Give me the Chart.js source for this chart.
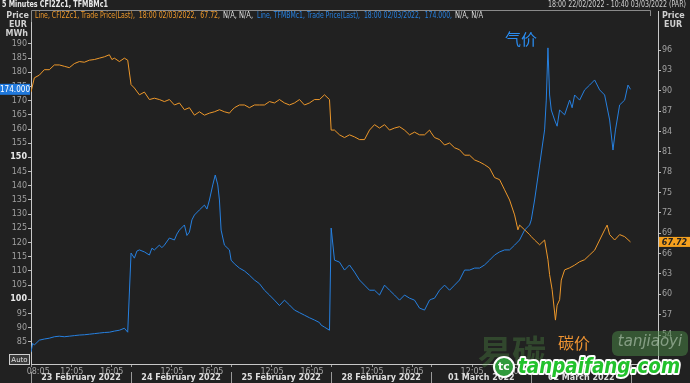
<!DOCTYPE html>
<html><head><meta charset="utf-8">
<script src="https://cdn.jsdelivr.net/npm/chart.js@4"></script>
<style>html,body{margin:0;padding:0;background:#212121;overflow:hidden}#w{width:690px;height:383px;position:relative}canvas{display:block}</style>
</head><body><div id="w"><canvas id="c" width="690" height="383" style="width:690px;height:383px"></canvas></div>
<script>
// ---- data ----
const dayDates  = ["23/02","24/02","25/02","28/02","01/03","02/03","03/03"];
const dayLabels = ["23 February 2022","24 February 2022","25 February 2022","28 February 2022","01 March 2022","02 March 2022"];
const leftTicks  = [85,90,95,100,105,110,115,120,125,130,135,140,145,150,155,160,165,170,175,180,185,190];
const rightTicks = [54,57,60,63,66,69,72,75,78,81,84,87,90,93,96];
const boldLeftTicks = [100,150];

// TFMBMc1 (gas, EUR/MWh, left axis)
const gasTimes = [
"23/02 08:00","23/02 08:10","23/02 08:20","23/02 08:50","23/02 09:20","23/02 09:50","23/02 10:20","23/02 10:50","23/02 11:20","23/02 11:50","23/02 12:20","23/02 12:50","23/02 13:20","23/02 13:50","23/02 14:20","23/02 14:50","23/02 15:20","23/02 15:50","23/02 16:20","23/02 16:50","23/02 17:20","23/02 17:40",
"24/02 08:00","24/02 08:20","24/02 08:35","24/02 08:50","24/02 09:20","24/02 09:50","24/02 10:05","24/02 10:20","24/02 10:50","24/02 11:05","24/02 11:20","24/02 11:50","24/02 12:20","24/02 12:35","24/02 12:50","24/02 13:20","24/02 13:35","24/02 13:50","24/02 14:05","24/02 14:20","24/02 14:50","24/02 15:20","24/02 15:35","24/02 15:50","24/02 16:10","24/02 16:25","24/02 16:40","24/02 16:50","24/02 17:00","24/02 17:20","24/02 17:50",
"25/02 08:00","25/02 08:20","25/02 08:50","25/02 09:20","25/02 09:50","25/02 10:20","25/02 10:50","25/02 11:20","25/02 11:50","25/02 12:20","25/02 12:50","25/02 13:20","25/02 13:50","25/02 14:20","25/02 14:50","25/02 15:20","25/02 15:50","25/02 16:20","25/02 16:50","25/02 17:00","25/02 17:20","25/02 17:50",
"28/02 08:00","28/02 08:20","28/02 08:50","28/02 09:20","28/02 09:50","28/02 10:20","28/02 10:50","28/02 11:20","28/02 11:50","28/02 12:20","28/02 12:50","28/02 13:20","28/02 13:50","28/02 14:20","28/02 14:50","28/02 15:20","28/02 15:50","28/02 16:20","28/02 16:50","28/02 17:20","28/02 17:50",
"01/03 08:00","01/03 08:20","01/03 08:50","01/03 09:20","01/03 09:50","01/03 10:20","01/03 10:50","01/03 11:20","01/03 11:50","01/03 12:20","01/03 12:50","01/03 13:20","01/03 13:50","01/03 14:20","01/03 14:50","01/03 15:20","01/03 15:50","01/03 16:20","01/03 16:50","01/03 17:20","01/03 17:50",
"02/03 08:00","02/03 08:20","02/03 08:50","02/03 09:20","02/03 09:30","02/03 09:40","02/03 09:50","02/03 10:00","02/03 10:20","02/03 10:35","02/03 10:50","02/03 11:20","02/03 11:50","02/03 12:05","02/03 12:20","02/03 12:50","02/03 13:20","02/03 13:50","02/03 14:20","02/03 14:50","02/03 15:20","02/03 15:50","02/03 16:10","02/03 16:25","02/03 16:50","02/03 17:20","02/03 17:40","02/03 17:55"
];
const gasValues = [
81.4,84.5,83.9,85.6,86.0,86.3,86.8,87.0,86.8,87.0,87.2,87.4,87.5,87.7,87.9,88.1,88.3,88.4,88.8,89.1,89.8,88.4,
116.3,114.5,117.0,117.4,116.7,115.6,118.0,117.4,119.1,118.2,119.1,121.6,120.9,123.0,124.4,126.2,122.5,123.7,128.0,129.7,131.5,133.2,131.8,135.0,140.3,143.8,140.3,135.0,124.4,119.1,117.4,
113.8,112.5,111.0,110.0,108.5,106.8,105.5,103.2,101.5,99.7,97.8,99.7,98.0,96.2,95.3,94.4,93.5,92.7,91.8,90.9,90.2,89.1,
125.1,113.8,113.1,110.3,112.1,109.6,106.8,105.0,103.2,103.2,101.5,105.0,103.2,101.5,99.7,101.5,100.4,99.7,96.9,96.2,99.7,
100.0,100.4,103.2,105.0,103.2,105.0,106.8,110.3,110.3,111.0,111.0,112.1,113.8,115.6,116.7,117.4,117.4,119.1,120.9,124.4,126.2,
128.0,135.0,147.3,159.7,170.2,188.6,172.0,166.7,163.2,161.0,166.7,165.0,170.2,167.5,172.0,170.2,173.8,175.5,177.3,173.8,172.0,163.2,152.6,159.7,168.5,170.2,175.5,174.0
];

// CFI2Zc1 (carbon, EUR, right axis)
const carbonTimes = [
"23/02 08:00","23/02 08:20","23/02 08:50","23/02 09:20","23/02 09:50","23/02 10:20","23/02 10:50","23/02 11:20","23/02 11:50","23/02 12:20","23/02 12:50","23/02 13:20","23/02 13:50","23/02 14:20","23/02 14:50","23/02 15:20","23/02 15:50","23/02 16:05","23/02 16:20","23/02 16:50","23/02 17:20","23/02 17:40",
"24/02 08:00","24/02 08:20","24/02 08:50","24/02 09:20","24/02 09:50","24/02 10:20","24/02 10:50","24/02 11:20","24/02 11:50","24/02 12:20","24/02 12:50","24/02 13:20","24/02 13:50","24/02 14:20","24/02 14:50","24/02 15:20","24/02 15:50","24/02 16:20","24/02 16:50","24/02 17:20","24/02 17:50",
"25/02 08:00","25/02 08:20","25/02 08:50","25/02 09:20","25/02 09:50","25/02 10:20","25/02 10:50","25/02 11:20","25/02 11:50","25/02 12:20","25/02 12:50","25/02 13:20","25/02 13:50","25/02 14:20","25/02 14:50","25/02 15:20","25/02 15:50","25/02 16:20","25/02 16:50","25/02 17:20","25/02 17:50",
"28/02 08:00","28/02 08:20","28/02 08:50","28/02 09:20","28/02 09:50","28/02 10:20","28/02 10:50","28/02 11:20","28/02 11:50","28/02 12:20","28/02 12:50","28/02 13:20","28/02 13:50","28/02 14:20","28/02 14:50","28/02 15:20","28/02 15:50","28/02 16:20","28/02 16:50","28/02 17:20","28/02 17:50",
"01/03 08:00","01/03 08:20","01/03 08:50","01/03 09:20","01/03 09:50","01/03 10:20","01/03 10:50","01/03 11:20","01/03 11:50","01/03 12:20","01/03 12:50","01/03 13:20","01/03 13:50","01/03 14:20","01/03 14:50","01/03 15:20","01/03 15:50","01/03 16:20","01/03 16:40","01/03 16:50","01/03 17:20","01/03 17:50",
"02/03 08:00","02/03 08:20","02/03 08:50","02/03 09:20","02/03 09:40","02/03 09:50","02/03 10:05","02/03 10:25","02/03 10:35","02/03 10:50","02/03 11:00","02/03 11:20","02/03 11:50","02/03 12:20","02/03 12:50","02/03 13:20","02/03 13:50","02/03 14:20","02/03 14:50","02/03 15:20","02/03 15:35","02/03 15:50","02/03 16:20","02/03 16:50","02/03 17:20","02/03 17:55"
];
const carbonValues = [
89.8,91.9,92.3,93.1,93.1,93.8,93.8,93.6,93.4,94.0,94.3,94.2,94.5,94.6,94.8,95.0,95.3,94.6,94.8,94.3,94.8,94.5,
90.9,90.4,89.4,89.8,88.7,88.9,88.7,88.4,88.7,87.9,88.2,87.2,87.5,86.4,86.9,86.4,86.7,86.9,87.2,86.9,86.7,
87.0,87.5,87.9,87.9,87.5,87.9,87.9,87.9,88.4,88.2,88.7,88.2,87.9,88.2,88.7,87.9,88.2,88.7,88.7,89.4,88.7,
84.2,84.2,83.5,83.1,83.5,83.2,82.8,82.8,84.2,85.0,84.5,85.0,84.2,84.5,84.7,84.2,83.5,83.9,83.5,83.5,84.2,
83.8,83.1,82.8,82.0,82.3,81.6,81.3,80.5,80.5,79.8,79.5,79.1,78.6,77.2,76.9,75.4,73.9,71.7,69.5,70.2,69.5,68.8,
68.5,68.0,67.3,68.0,65.1,62.9,60.7,56.2,58.4,59.2,62.1,63.6,63.9,64.3,64.8,65.1,65.8,66.5,68.0,69.5,70.2,68.8,68.0,68.8,68.5,67.72
];

// ---- helpers ----
const SESSION_START = 8, SESSION_LEN = 10; // 08:00-18:00 Paris
function sessionHour(s){
  const [d,t] = s.split(" ");
  const [h,m] = t.split(":").map(Number);
  return dayDates.indexOf(d)*SESSION_LEN + (h + m/60 - SESSION_START);
}
const xMax = sessionHour("03/03 10:40");
const xTicks = [{v:sessionHour("23/02 08:05"),l:"     08:05"}];
for (let d=0; d<dayLabels.length; d++){
  if (d>0) xTicks.push({v:d*SESSION_LEN,l:""});
  xTicks.push({v:sessionHour(dayDates[d]+" 12:05"),l:"12:05"});
  xTicks.push({v:sessionHour(dayDates[d]+" 16:05"),l:"16:05"});
}
xTicks.push({v:6*SESSION_LEN,l:""});

const ORANGE = "#ee982a", BLUE = "#2680e0";
const FONT = "'DejaVu Sans', 'Liberation Sans', sans-serif";

const decor = {
  id:"decor",
  beforeDraw(chart){
    const c = chart.ctx; c.save();
    c.fillStyle = "#212121"; c.fillRect(0,0,chart.width,chart.height);
    c.restore();
  },
  afterDraw(chart){
    const c = chart.ctx, a = chart.chartArea, sx = chart.scales.x, yL = chart.scales.yL, yR = chart.scales.yR;
    c.save();
    c.textBaseline = "middle";
    // header
    c.font = "bold 8px " + FONT; c.fillStyle = "#e8e8e8"; c.textAlign = "left";
    c.fillText("5 Minutes CFI2Zc1, TFMBMc1", 2, 5, 106);
    c.font = "8px " + FONT; c.fillStyle = "#cfcfcf"; c.textAlign = "right";
    c.fillText("18:00 22/02/2022 - 10:40 03/03/2022 (PAR)", 686, 5, 138);
    // legend frame
    c.strokeStyle = "#8a8a8a"; c.lineWidth = 1;
    c.beginPath(); c.moveTo(a.left+0.5, 22); c.lineTo(a.left+0.5, 10.5); c.lineTo(650.5, 10.5); c.lineTo(650.5, 16); c.stroke();
    // legend text
    c.textAlign = "left"; c.font = "8px " + FONT;
    c.fillStyle = ORANGE; c.fillText("Line, CFI2Zc1, Trade Price(Last),  18:00 02/03/2022,  67.72,", 35, 16, 185);
    c.fillStyle = "#dddddd"; c.fillText("N/A, N/A,", 223, 16, 30);
    c.fillStyle = BLUE; c.fillText("Line, TFMBMc1, Trade Price(Last),  18:00 02/03/2022,  174.000,", 257, 16, 195);
    c.fillStyle = "#dddddd"; c.fillText("N/A, N/A", 455, 16, 28);
    // axis unit labels
    c.font = "bold 8px " + FONT; c.fillStyle = "#d0d0d0"; c.textAlign = "right";
    c.fillText("Price", 29, 16); c.fillText("EUR", 27, 25); c.fillText("MWh", 28, 34);
    c.textAlign = "left";
    c.fillText("Price", 662, 16); c.fillText("EUR", 664, 25);
    // current value boxes
    const lastGas = gasValues[gasValues.length-1], lastCarbon = carbonValues[carbonValues.length-1];
    let py = yL.getPixelForValue(lastGas);
    c.fillStyle = "#1f78dc"; c.fillRect(0, py-5.5, a.left-1, 11);
    c.font = "8px " + FONT; c.fillStyle = "#ffffff"; c.textAlign = "center";
    c.fillText(lastGas.toFixed(3), (a.left-1)/2, py+0.5, 30);
    py = yR.getPixelForValue(lastCarbon);
    c.fillStyle = "#f5a01e"; c.fillRect(a.right+1, py-5, chart.width-a.right-1, 10);
    c.font = "italic bold 8px " + FONT; c.fillStyle = "#222"; c.textAlign = "center";
    c.fillText(lastCarbon.toFixed(2), a.right+1+(chart.width-a.right-1)/2, py+0.5);
    // Auto box
    c.fillStyle = "#3a3a3a"; c.fillRect(9.5, 354.5, 20, 10);
    c.strokeStyle = "#cfcfcf"; c.strokeRect(9.5, 354.5, 20, 10);
    c.font = "7px " + FONT; c.fillStyle = "#e0e0e0"; c.fillText("Auto", 19.5, 360);
    // date row
    c.font = "bold 8px " + FONT; c.fillStyle = "#dedede"; c.textAlign = "center";
    for (let d=0; d<dayLabels.length; d++){
      c.fillText(dayLabels[d], sx.getPixelForValue(d*SESSION_LEN + SESSION_LEN/2), 377.5);
    }
    c.strokeStyle = "#9a9a9a";
    for (let d=0; d<=dayLabels.length; d++){
      const xx = Math.round(sx.getPixelForValue(d*SESSION_LEN)) + 0.5;
      c.beginPath(); c.moveTo(xx, 372); c.lineTo(xx, 383); c.stroke();
    }
    // annotations
    c.font = "16px 'Noto Sans CJK SC', sans-serif";
    c.fillStyle = "#2a8cf0"; c.textAlign = "left"; c.fillText("气价", 505, 39);
    // watermark (faint logo)
    c.globalAlpha = 0.28;
    c.font = "bold 34px 'Noto Sans CJK SC', sans-serif"; c.fillStyle = "#5fae4f"; c.textAlign = "left";
    c.fillText("易碳", 478, 352);
    c.globalAlpha = 0.5;
    c.fillStyle = "#4c8c48";
    roundRect(c, 612, 331, 76, 25, 6); c.fill();
    c.font = "italic 15px " + FONT; c.fillStyle = "#d3e6d3"; c.textAlign = "center";
    c.fillText("tanjiaoyi", 650, 342);
    c.globalAlpha = 1;
    c.beginPath(); c.arc(504, 367, 10, 0, Math.PI*2); c.fillStyle = "#2f9a3c"; c.fill();
    c.lineWidth = 2; c.strokeStyle = "#ffffff"; c.stroke();
    c.font = "bold 11px " + FONT; c.fillStyle = "#ffffff"; c.textAlign = "center"; c.fillText("tc", 504, 367);
    c.font = "bold italic 21px " + FONT; c.textAlign = "left"; c.lineJoin = "round";
    c.lineWidth = 4; c.strokeStyle = "#ffffff"; c.strokeText("tanpaifang.com", 518, 368, 162);
    c.fillStyle = "#22c22c"; c.fillText("tanpaifang.com", 518, 368, 162);
    c.font = "16px 'Noto Sans CJK SC', sans-serif";
    c.fillStyle = "#ee9332"; c.textAlign = "left"; c.fillText("碳价", 558, 343);
    c.restore();
  }
};
function roundRect(c,x,y,w,h,r){c.beginPath();c.moveTo(x+r,y);c.arcTo(x+w,y,x+w,y+h,r);c.arcTo(x+w,y+h,x,y+h,r);c.arcTo(x,y+h,x,y,r);c.arcTo(x,y,x+w,y,r);c.closePath();}

const tickFont = {family: FONT, size: 8};
new Chart(document.getElementById("c"), {
  type: "line",
  data: {
    datasets: [
      {label:"CFI2Zc1", yAxisID:"yR", data: carbonTimes.map((t,i)=>({x:sessionHour(t), y:carbonValues[i]})), borderColor: ORANGE, borderWidth: 1, pointRadius: 0, tension: 0},
      {label:"TFMBMc1", yAxisID:"yL", data: gasTimes.map((t,i)=>({x:sessionHour(t), y:gasValues[i]})), borderColor: BLUE, borderWidth: 1, pointRadius: 0, tension: 0}
    ]
  },
  options: {
    responsive: false, animation: false, devicePixelRatio: 1,
    layout: {padding: {top: 11, left: 0, right: 0, bottom: 0}, autoPadding: false},
    plugins: {legend: {display: false}, tooltip: {enabled: false}},
    scales: {
      x: {
        type: "linear", min: 0, max: xMax, position: "bottom",
        afterBuildTicks: s => { s.ticks = xTicks.map(t => ({value: t.v})); },
        afterFit: s => { s.height = 19; },
        ticks: {autoSkip: false, maxRotation: 0, padding: 0, color: "#a8a8a8", font: tickFont,
          callback: v => { const t = xTicks.find(k => Math.abs(k.v - v) < 1e-6); return t ? t.l : ""; }},
        grid: {display: true, drawOnChartArea: false, drawTicks: true, tickLength: 3, color: "#9a9a9a"},
        border: {display: true, color: "#c8c8c8"}
      },
      yL: {
        type: "linear", position: "left", min: 77.2, max: 201.6,
        afterBuildTicks: s => { s.ticks = leftTicks.map(v => ({value: v})); },
        afterFit: s => { s.width = 31; },
        ticks: {padding: 1, font: ctx => boldLeftTicks.includes(ctx.tick && ctx.tick.value) ? {family: FONT, size: 8, weight: "bold"} : tickFont,
          color: ctx => boldLeftTicks.includes(ctx.tick && ctx.tick.value) ? "#e8e8e8" : "#a0a0a0"},
        grid: {display: true, drawOnChartArea: false, drawTicks: true, tickLength: 3, color: "#bdbdbd"},
        border: {display: true, color: "#c8c8c8"}
      },
      yR: {
        type: "linear", position: "right", min: 49.73, max: 101.75,
        afterBuildTicks: s => { s.ticks = rightTicks.map(v => ({value: v})); },
        afterFit: s => { s.width = 32; },
        ticks: {padding: 1, font: tickFont, color: "#a0a0a0"},
        grid: {display: true, drawOnChartArea: false, drawTicks: true, tickLength: 3, color: "#bdbdbd"},
        border: {display: true, color: "#c8c8c8"}
      }
    }
  },
  plugins: [decor]
});
</script></body></html>
